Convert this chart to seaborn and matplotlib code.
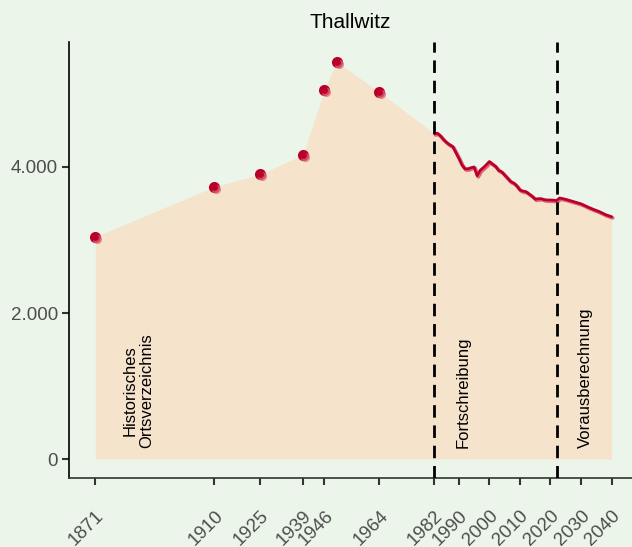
import numpy as np
import pandas as pd
import matplotlib
matplotlib.use("Agg")
import matplotlib.pyplot as plt
import matplotlib.transforms as mtransforms
from matplotlib.ticker import FuncFormatter
import seaborn as sns

# ---- data ----
hist_years = [1871, 1910, 1925, 1939, 1946, 1950, 1964]
hist_values = [3045, 3730, 3900, 4168, 5055, 5440, 5027]

fort_years = [1982, 1983, 1984, 1985, 1986, 1987, 1988, 1989, 1990, 1991, 1992, 1993,
              1994, 1995, 1996, 1997, 1998, 1999, 2000, 2001, 2002, 2003, 2004, 2005,
              2006, 2007, 2008, 2009, 2010, 2011, 2012, 2013, 2014, 2015, 2016, 2017,
              2018, 2019, 2020, 2021, 2022]
fort_values = [4455, 4462, 4425, 4375, 4335, 4305, 4280, 4200, 4120, 4030, 3975, 3975,
               3990, 4000, 3880, 3955, 3990, 4030, 4075, 4040, 4010, 3955, 3935, 3890,
               3845, 3800, 3780, 3740, 3685, 3670, 3662, 3630, 3600, 3560, 3565, 3566,
               3552, 3548, 3548, 3545, 3540]

proj_years = [2022, 2023, 2025, 2027, 2030, 2032, 2034, 2036, 2038, 2040]
proj_values = [3578, 3575, 3557, 3532, 3495, 3456, 3420, 3388, 3347, 3319]

tick_years = [1871, 1910, 1925, 1939, 1946, 1964, 1982, 1990, 2000, 2010, 2020, 2030, 2040]
y_ticks = [0, 2000, 4000]
phase_lines = [1982, 2022]
phase_labels = ["Historisches\nOrtsverzeichnis", "Fortschreibung", "Vorausberechnung"]
phase_label_x = [1885, 1991.5, 2031.3]
title = "Thallwitz"

# ---- style ----
bg = "#ecf5ea"
fill_col = "#f5e3cc"
dark_red = "#b8002a"
light_red = "#e06478"

sns.set_theme(style="ticks")
plt.rcParams["font.family"] = ["Liberation Sans", "DejaVu Sans"]

fig = plt.figure(figsize=(6.32, 5.47), dpi=100, facecolor=bg)
ax = fig.add_axes([69 / 632, 1 - 478 / 547, 1 - 69 / 632, (478 - 42) / 547])
ax.set_facecolor(bg)

hist_df = pd.DataFrame({"year": hist_years, "value": hist_values})
fort_df = pd.DataFrame({"year": fort_years, "value": fort_values})
proj_df = pd.DataFrame({"year": proj_years, "value": proj_values})
all_df = pd.concat([hist_df, fort_df, proj_df]).drop_duplicates("year", keep="first")
all_df = all_df.sort_values("year")

ax.fill_between(all_df["year"], 0, all_df["value"], color=fill_col, linewidth=0, zorder=1)

off = mtransforms.offset_copy(ax.transData, fig=fig, x=1.2, y=-1.2, units="dots")
line_df = pd.concat([fort_df, proj_df.iloc[1:]])
ax.plot(line_df["year"], line_df["value"], color=light_red, lw=2.6, transform=off, zorder=3,
        solid_joinstyle="round")
sns.lineplot(data=line_df, x="year", y="value", color=dark_red, lw=2.0, ax=ax, zorder=4)

sns.scatterplot(data=hist_df, x="year", y="value", color=dark_red, s=64, linewidth=0,
                ax=ax, zorder=5)
ax.scatter(hist_df["year"], hist_df["value"], color=light_red, s=42, linewidth=0,
           transform=mtransforms.offset_copy(ax.transData, fig=fig, x=2.0, y=-2.0, units="dots"),
           zorder=6, alpha=0.75)
sns.scatterplot(data=hist_df, x="year", y="value", color=dark_red, s=24, linewidth=0,
                ax=ax, zorder=7)

for x in phase_lines:
    ax.axvline(x, color="black", lw=2.0, dashes=(4.5, 2.8), zorder=8)

for lab, x in zip(phase_labels, phase_label_x):
    ax.text(x, 150, lab, rotation=90, ha="center", va="bottom", fontsize=12,
            color="black", zorder=9, linespacing=1.15)

ax.set_xlim(1862.4, 2046.7)
ax.set_ylim(-260, 5712)
ax.set_xticks(tick_years)
ax.set_xticklabels([str(t) for t in tick_years], rotation=45, ha="right",
                   rotation_mode="anchor", fontsize=13.5, color="#4d4d4d")
ax.set_yticks(y_ticks)
ax.yaxis.set_major_formatter(FuncFormatter(lambda v, p: f"{int(v):,}".replace(",", ".")))
ax.tick_params(axis="y", labelsize=13.5, labelcolor="#4d4d4d", length=5, width=1.5,
               color="#333333", pad=3)
ax.tick_params(axis="x", length=5, width=1.5, color="#333333", pad=16)
ax.set_xlabel("")
ax.set_ylabel("")
ax.set_title(title, fontsize=15, color="black", pad=10)

for s in ["top", "right"]:
    ax.spines[s].set_visible(False)
ax.spines["left"].set_color("black")
ax.spines["bottom"].set_color("#333333")
ax.spines["left"].set_linewidth(1.2)
ax.spines["bottom"].set_linewidth(1.2)

fig.savefig("out.png", dpi=100, facecolor=bg)
